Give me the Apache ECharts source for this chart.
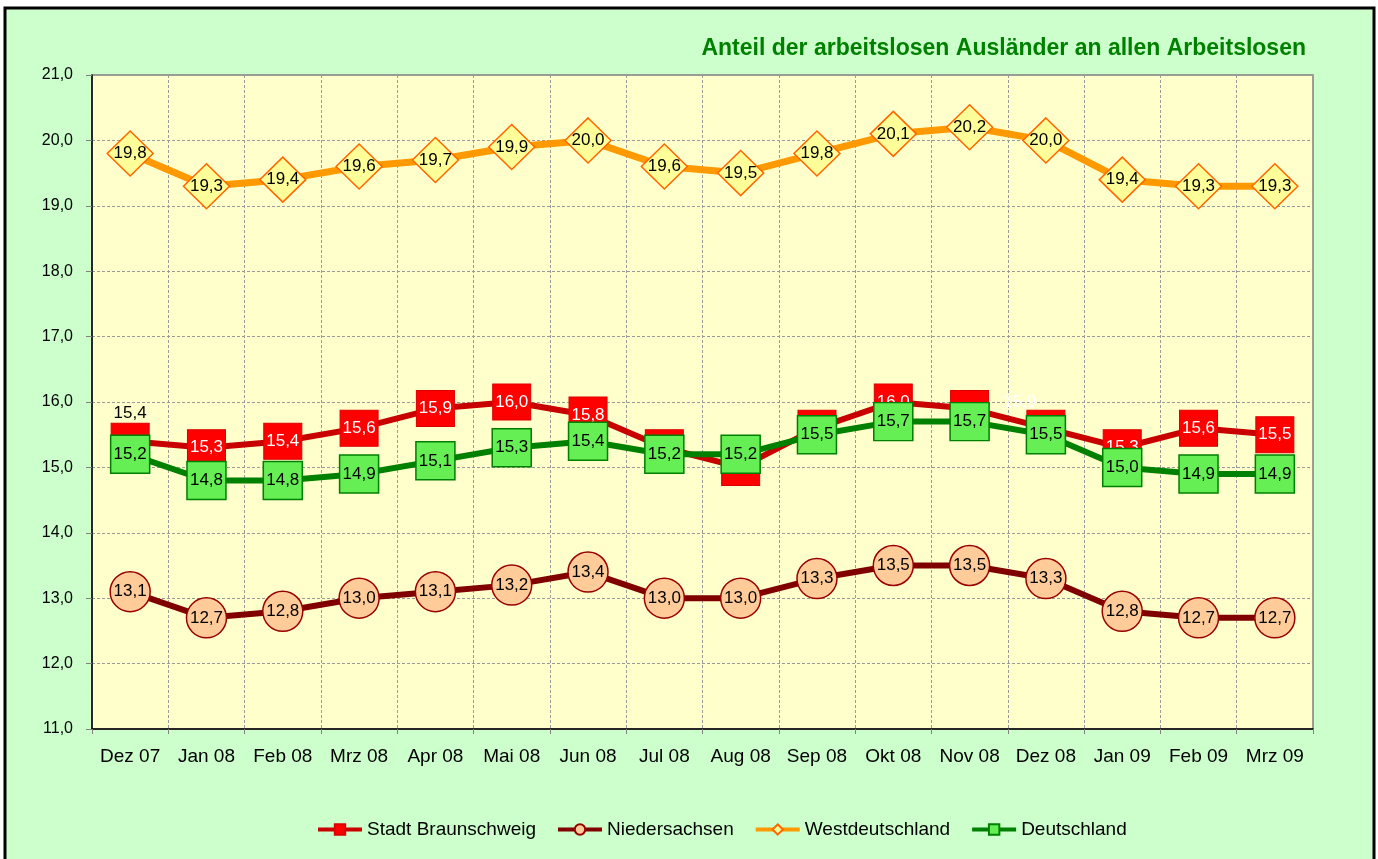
<!DOCTYPE html>
<html lang="de">
<head>
    <meta charset="UTF-8">
    <title>Anteil der arbeitslosen Ausländer</title>
    <script src="https://cdn.jsdelivr.net/npm/echarts@6.0.0/dist/echarts.min.js"></script>
    <style>
        html, body { margin: 0; padding: 0; background: #ffffff; }
        #myChart { width: 1378px; height: 859px; }
    </style>
</head>
<body>
<div id="myChart"></div>
<script>
    const months = ["Dez 07", "Jan 08", "Feb 08", "Mrz 08", "Apr 08", "Mai 08", "Jun 08", "Jul 08",
        "Aug 08", "Sep 08", "Okt 08", "Nov 08", "Dez 08", "Jan 09", "Feb 09", "Mrz 09"];
    const braunschweig = [15.4, 15.3, 15.4, 15.6, 15.9, 16.0, 15.8, 15.3, 15.0, 15.6, 16.0, 15.9, 15.6, 15.3, 15.6, 15.5];
    const niedersachsen = [13.1, 12.7, 12.8, 13.0, 13.1, 13.2, 13.4, 13.0, 13.0, 13.3, 13.5, 13.5, 13.3, 12.8, 12.7, 12.7];
    const westdeutschland = [19.8, 19.3, 19.4, 19.6, 19.7, 19.9, 20.0, 19.6, 19.5, 19.8, 20.1, 20.2, 20.0, 19.4, 19.3, 19.3];
    const deutschland = [15.2, 14.8, 14.8, 14.9, 15.1, 15.3, 15.4, 15.2, 15.2, 15.5, 15.7, 15.7, 15.5, 15.0, 14.9, 14.9];

    const font = '"Liberation Sans", Arial, sans-serif';
    const komma = v => v.toFixed(1).replace('.', ',');

    // Braunschweig: erstes Label schwarz oberhalb, Nov 08 seitlich versetzt
    const bsData = braunschweig.map((v, i) => {
        if (i === 0) {
            return {value: v, label: {position: 'top', distance: 1, color: '#000000'}};
        }
        if (i === 11) {
            return {value: v, label: {offset: [50, -6]}};
        }
        return v;
    });

    const option = {
        backgroundColor: '#ffffff',
        textStyle: {fontFamily: font},
        graphic: [{
            type: 'rect',
            z: -10,
            silent: true,
            shape: {x: 5, y: 8, width: 1369, height: 860},
            style: {fill: '#CCFFCC', stroke: '#000000', lineWidth: 3}
        }],
        title: {
            text: 'Anteil der arbeitslosen Ausländer an allen Arbeitslosen',
            right: 67,
            top: 32,
            textStyle: {
                fontFamily: font,
                fontSize: 23,
                fontWeight: 'bold',
                color: '#008000'
            }
        },
        grid: {
            left: 92,
            top: 75,
            right: 65,
            bottom: 130,
            show: true,
            backgroundColor: '#FFFFCC',
            borderColor: '#808080',
            borderWidth: 1.5
        },
        legend: {
            bottom: 15,
            left: 311,
            itemWidth: 44,
            itemHeight: 13,
            itemGap: 20,
            lineStyle: {width: 4},
            textStyle: {fontFamily: font, fontSize: 19, color: '#000000'},
            data: ['Stadt Braunschweig', 'Niedersachsen', 'Westdeutschland', 'Deutschland']
        },
        xAxis: {
            type: 'category',
            data: months,
            boundaryGap: true,
            axisLine: {lineStyle: {color: '#000000', width: 1.5}},
            axisTick: {show: true, interval: 0, length: 5, lineStyle: {color: '#808080'}},
            axisLabel: {interval: 0, fontFamily: font, fontSize: 19, color: '#000000', margin: 18},
            splitLine: {show: true, interval: 0, lineStyle: {color: '#9a9a9a', type: [3, 2], width: 1}}
        },
        yAxis: {
            type: 'value',
            min: 11,
            max: 21,
            interval: 1,
            axisLine: {show: true, lineStyle: {color: '#000000', width: 1.5}},
            axisTick: {show: true, length: 6, lineStyle: {color: '#808080'}},
            axisLabel: {fontFamily: font, fontSize: 16, color: '#000000', margin: 19, formatter: v => komma(v)},
            splitLine: {show: true, lineStyle: {color: '#9a9a9a', type: [3, 2], width: 1}}
        },
        series: [
            {
                name: 'Stadt Braunschweig',
                type: 'line',
                data: bsData,
                z: 2,
                symbol: 'rect',
                symbolSize: [38, 36],
                lineStyle: {color: '#C80000', width: 6},
                itemStyle: {color: '#FF0000', borderColor: '#DD0000', borderWidth: 1},
                label: {show: true, position: 'inside', fontFamily: font, fontSize: 17, color: '#ffffff', formatter: p => komma(p.value)}
            },
            {
                name: 'Niedersachsen',
                type: 'line',
                data: niedersachsen,
                z: 3,
                symbol: 'circle',
                symbolSize: 40,
                lineStyle: {color: '#800000', width: 6},
                itemStyle: {color: '#FFCC99', borderColor: '#990000', borderWidth: 1.5},
                label: {show: true, position: 'inside', fontFamily: font, fontSize: 17, color: '#000000', formatter: p => komma(p.value)}
            },
            {
                name: 'Westdeutschland',
                type: 'line',
                data: westdeutschland,
                z: 4,
                symbol: 'diamond',
                symbolSize: [46, 45],
                lineStyle: {color: '#FF9900', width: 7},
                itemStyle: {color: '#FFFF99', borderColor: '#FF6600', borderWidth: 1.5},
                label: {show: true, position: 'inside', fontFamily: font, fontSize: 17, color: '#000000', formatter: p => komma(p.value)}
            },
            {
                name: 'Deutschland',
                type: 'line',
                data: deutschland,
                z: 5,
                symbol: 'rect',
                symbolSize: [39, 38],
                lineStyle: {color: '#008000', width: 6},
                itemStyle: {color: '#66EE55', borderColor: '#008000', borderWidth: 1.5},
                label: {show: true, position: 'inside', fontFamily: font, fontSize: 17, color: '#000000', formatter: p => komma(p.value)}
            }
        ]
    };

    const myChart = echarts.init(document.getElementById("myChart"));
    myChart.setOption(option);
</script>
</body>
</html>
